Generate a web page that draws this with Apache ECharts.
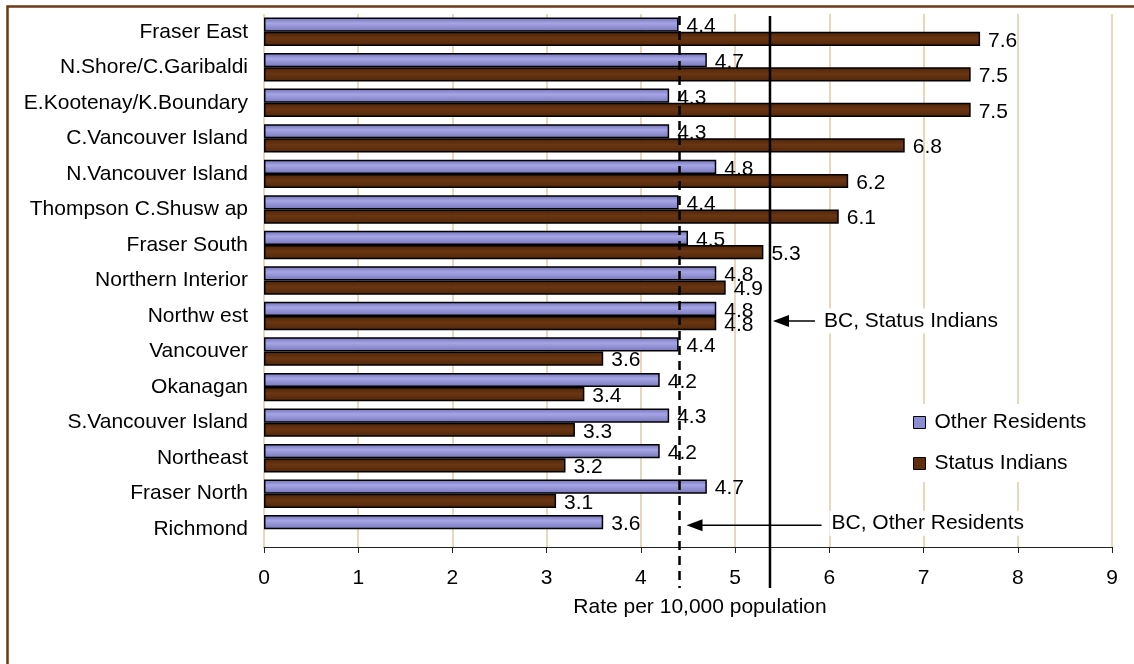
<!DOCTYPE html>
<html><head><meta charset="utf-8">
<script src="https://cdn.jsdelivr.net/npm/echarts@6/dist/echarts.min.js"></script>
<style>html,body{margin:0;padding:0;background:#fff}#c{width:1134px;height:664px}</style>
</head><body><div id="c"></div>
<script>
// ---- data ----
const categories = ['Fraser East','N.Shore/C.Garibaldi','E.Kootenay/K.Boundary','C.Vancouver Island','N.Vancouver Island','Thompson C.Shusw ap','Fraser South','Northern Interior','Northw est','Vancouver','Okanagan','S.Vancouver Island','Northeast','Fraser North','Richmond'];
const otherResidents = [4.4,4.7,4.3,4.3,4.8,4.4,4.5,4.8,4.8,4.4,4.2,4.3,4.2,4.7,3.6];
const statusIndians  = [7.6,7.5,7.5,6.8,6.2,6.1,5.3,4.9,4.8,3.6,3.4,3.3,3.2,3.1,null];
const seriesNames = ['Other Residents','Status Indians'];
const xTickMin = 0, xTickMax = 9, xTickStep = 1;
const bcOtherRate = 4.41;   // BC, Other Residents (dashed)
const bcStatusRate = 5.37;  // BC, Status Indians (solid)
const annotations = ['BC, Status Indians','BC, Other Residents'];
const xAxisTitle = 'Rate per 10,000 population';

const FONT = 'Liberation Sans, Arial, sans-serif';
const blueGrad = new echarts.graphic.LinearGradient(0,0,0,1,[
  {offset:0,color:'#6E6EB4'},{offset:0.4,color:'#A6A6E6'},{offset:1,color:'#7474B8'}]);
const brownGrad = new echarts.graphic.LinearGradient(0,0,0,1,[
  {offset:0,color:'#4C2307'},{offset:0.45,color:'#6A3613'},{offset:1,color:'#502609'}]);

const chart = echarts.init(document.getElementById('c'), null, {renderer:'canvas'});
const GRID = {left:264, right:22, top:14, bottom:117};
const labelCfg = {show:true, position:'right', distance:8, offset:[0,2], color:'#000', fontSize:21, fontFamily:FONT,
  formatter: p => (p.value == null ? '' : Number(p.value).toFixed(1))};

chart.setOption({
  animation:false,
  backgroundColor:'#fff',
  textStyle:{fontFamily:FONT},
  grid:GRID,
  legend:{
    orient:'vertical', left:903, top:404, itemWidth:12, itemHeight:12, itemGap:20,
    backgroundColor:'#fff', padding:[8,12,8,10],
    textStyle:{fontSize:21, color:'#000', fontFamily:FONT, padding:[0,0,0,4]},
    data:[
      {name:seriesNames[0], icon:'rect', itemStyle:{color:'#8C8CD0', borderColor:'#000', borderWidth:1}},
      {name:seriesNames[1], icon:'rect', itemStyle:{color:'#5E2E0F', borderColor:'#000', borderWidth:1}}
    ]
  },
  xAxis:{
    type:'value', min:xTickMin, max:xTickMax, interval:xTickStep,
    name:xAxisTitle, nameLocation:'middle', nameGap:50,
    nameTextStyle:{fontSize:21, color:'#000', fontFamily:FONT, padding:[0,0,0,24]},
    axisLine:{show:true, lineStyle:{color:'#222', width:1}},
    axisTick:{show:true, length:6, lineStyle:{color:'#222'}},
    axisLabel:{fontSize:21, color:'#000', margin:21, fontFamily:FONT},
    splitLine:{show:true, lineStyle:{color:'#DCCBA4', width:1.5}}
  },
  yAxis:{
    type:'category', data:categories, inverse:true,
    axisLine:{show:false}, axisTick:{show:false},
    axisLabel:{fontSize:21, color:'#000', margin:16, fontFamily:FONT},
    splitLine:{show:false}
  },
  series:[
    {name:seriesNames[0], type:'bar', data:otherResidents, barGap:'0%', barCategoryGap:'20%',
     itemStyle:{color:blueGrad, borderColor:'#000', borderWidth:1.5}, label:labelCfg, z:3},
    {name:seriesNames[1], type:'bar', data:statusIndians, barGap:'0%', barCategoryGap:'20%',
     itemStyle:{color:brownGrad, borderColor:'#000', borderWidth:1.5}, label:labelCfg, z:2}
  ]
});

function drawOverlay(){
  const W = chart.getWidth(), H = chart.getHeight();
  const topY = GRID.top + 2;
  const axisY = H - GRID.bottom;
  const lineBottom = axisY + 41;
  const xOther = chart.convertToPixel({xAxisIndex:0}, bcOtherRate);
  const xStatus = chart.convertToPixel({xAxisIndex:0}, bcStatusRate);
  const yNW = chart.convertToPixel({yAxisIndex:0}, categories[8]) + 5;
  const yRich = chart.convertToPixel({yAxisIndex:0}, categories[14]) - 4;
  function arrow(tipX, y, endX){
    return [
      {type:'line', shape:{x1:tipX+10, y1:y, x2:endX, y2:y}, style:{stroke:'#000', lineWidth:1.5}, z:20},
      {type:'polygon', shape:{points:[[tipX,y],[tipX+16,y-6],[tipX+16,y+6]]}, style:{fill:'#000'}, z:20}
    ];
  }
  chart.setOption({graphic:[
    {type:'rect', shape:{x:7.5, y:6.5, width:W+20, height:H+20}, style:{fill:null, stroke:'#6B3A17', lineWidth:2.5}, z:1, silent:true},
    {type:'line', shape:{x1:xOther, y1:topY, x2:xOther, y2:lineBottom}, style:{stroke:'#000', lineWidth:2.5, lineDash:[9,6]}, z:20},
    {type:'line', shape:{x1:xStatus, y1:topY, x2:xStatus, y2:lineBottom}, style:{stroke:'#000', lineWidth:2.5}, z:20},
    ...arrow(xStatus+3, yNW, xStatus+45),
    {type:'text', x:xStatus+52, y:yNW, style:{text:annotations[0], font:'21px '+FONT, fill:'#000', verticalAlign:'middle', backgroundColor:'#fff', padding:[2,2]}, z:19},
    ...arrow(xOther+7, yRich, xOther+142),
    {type:'text', x:xOther+150, y:yRich-2, style:{text:annotations[1], font:'21px '+FONT, fill:'#000', verticalAlign:'middle', backgroundColor:'#fff', padding:[2,2]}, z:19}
  ]});
}
drawOverlay();
</script></body></html>
